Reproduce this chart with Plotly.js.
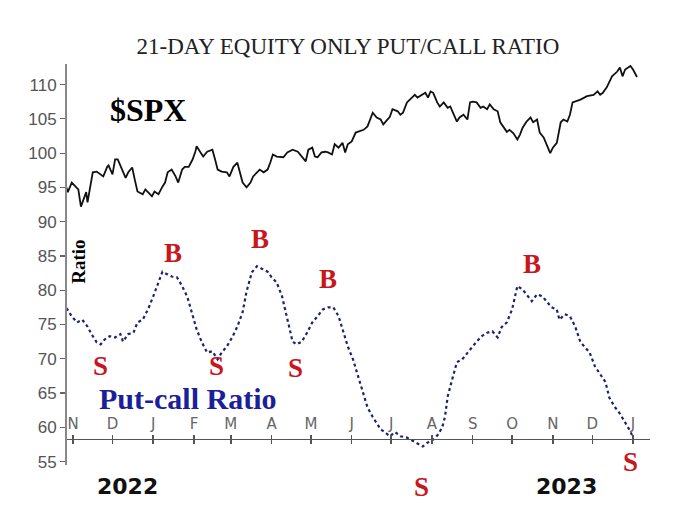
<!DOCTYPE html>
<html>
<head>
<meta charset="utf-8">
<script src="https://cdn.plot.ly/plotly-3.0.1.min.js"></script>
<style>html,body{margin:0;padding:0;background:#fff;}#chart{width:700px;height:525px;}</style>
</head>
<body>
<div id="chart"></div>
<script>
// x values: days since 1 Nov 2022
const spxDays = [-5,-4,-1,2,4,6,8,10,11,13,15,18,21,23,26,27,30,32,34,37,40,42,45,47,49,53,55,57,60,62,65,68,70,72,75,78,80,83,85,88,91,93,94,97,99,102,106,108,110,113,117,119,122,125,127,129,132,135,137,140,142,145,148,150,152,155,158,160,163,167,171,174,177,179,182,184,186,189,192,194,197,199,202,205,207,209,212,215,217,221,224,226,228,231,234,236,239,241,243,247,249,251,254,256,260,262,266,268,270,272,274,277,279,282,285,287,289,292,294,297,300,302,304,307,310,312,315,317,320,323,325,327,330,332,335,338,340,342,345,348,350,353,355,358,361,363,365,368,371,373,376,378,380,386,391,396,399,401,403,406,410,414,416,418,420,424,426,429];
const spxVals = [95.0,94.3,95.7,95.1,94.7,92.2,93.2,94.3,92.8,95.0,97.2,97.3,96.9,96.6,98.0,98.2,96.9,99.1,99.1,97.6,96.4,97.2,97.9,96.1,94.4,94.0,94.7,94.3,93.7,94.4,94.0,95.1,95.7,97.2,97.6,96.6,95.7,97.6,98.0,98.0,99.1,100.2,101.0,100.1,99.5,100.2,100.5,99.1,97.6,97.3,97.2,96.6,98.0,98.6,97.2,95.7,95.0,95.7,96.6,97.2,97.6,97.2,97.6,98.6,99.8,99.5,99.5,99.4,100.1,100.5,100.2,99.5,98.8,100.5,100.8,99.5,99.4,100.1,100.2,100.1,99.8,101.3,100.8,101.5,100.1,101.3,101.7,103.0,103.1,103.4,103.9,104.9,105.9,105.2,104.9,104.2,104.9,105.3,106.4,106.1,105.6,105.9,107.4,107.8,108.5,108.1,108.5,108.8,108.1,109.0,108.8,107.4,106.8,107.4,106.6,106.8,105.9,104.6,105.2,105.6,104.9,107.4,107.5,107.4,106.6,106.8,106.4,107.1,106.4,106.1,104.5,103.9,103.1,103.4,102.9,102.0,102.7,103.7,104.6,105.2,104.5,104.9,103.0,102.3,100.8,100.0,100.8,101.5,104.5,104.9,104.6,105.6,107.4,107.8,108.3,108.5,109.0,108.5,108.8,109.6,111.2,111.9,112.5,111.2,112.2,112.7,112.2,111.1];

const pcDays = [-5,-1,3,7,11,14,18,21,24,28,32,36,38,42,46,49,53,57,61,65,68,72,75,79,83,87,91,94,98,102,106,110,113,117,121,125,129,132,136,140,144,148,151,155,159,163,167,170,174,178,182,186,190,194,198,202,205,209,213,217,221,224,228,234,237,241,245,249,254,259,264,266,270,274,278,281,283,285,289,292,296,300,304,307,311,315,319,323,326,330,334,338,342,345,349,353,357,361,364,368,370,374,378,382,386,389,393,397,401,405,408,412,416,420,424,426];
const pcVals = [77.4,76.2,75.3,75.7,74.7,73.6,72.4,72.1,72.8,73.3,73.1,73.6,72.5,73.6,73.8,75.3,75.7,77.2,79.1,81.1,82.7,82.3,82.0,81.9,80.6,79.0,76.2,74.3,72.4,70.9,71.1,69.9,70.9,71.8,73.1,74.7,76.8,79.8,82.6,83.5,83.1,82.7,81.9,81.1,79.1,75.7,72.5,72.1,72.5,73.8,75.3,76.2,77.2,77.5,77.5,76.2,74.3,71.8,69.9,67.4,65.1,62.9,61.5,59.7,59.3,58.7,59.3,58.7,58.5,58.0,57.5,57.2,57.8,58.2,59.0,60.1,61.6,64.5,67.4,69.5,69.9,70.9,71.8,72.5,73.3,73.8,74.0,73.1,74.6,75.3,77.2,80.6,80.1,79.4,78.4,79.4,79.1,78.2,77.5,77.2,75.7,76.5,76.2,74.7,72.4,71.8,70.9,68.9,67.7,66.6,64.3,63.0,62.0,60.8,59.4,58.5];

const monthDays = [0,30,61,92,120,151,181,212,242,273,304,334,365,395,426];
const monthLabels = ['N','D','J','F','M','A','M','J','J','A','S','O','N','D','J'];
const yTickVals = [55,60,65,70,75,80,85,90,95,100,105,110];

const signalText = ['B','B','B','B','S','S','S','S'];
const signalDays = [76,142,194,349,21,109,169,424];
const signalVals = [85.4,87.4,81.6,83.8,68.9,68.9,68.7,55.0];
const bottomSignalDay = 265;

const RED = '#c8161d';
const BLUE = '#1b209a';
const axisPos = 0.066;

const traces = [
  {x: spxDays, y: spxVals, type: 'scatter', mode: 'lines',
   line: {color: '#111', width: 1.8}, hoverinfo: 'skip', showlegend: false},
  {x: pcDays, y: pcVals, type: 'scatter', mode: 'lines',
   line: {color: '#1c2470', width: 2.2, dash: 'dot'}, hoverinfo: 'skip', showlegend: false},
  {x: [pcDays[0]], y: [pcVals[0]], xaxis: 'x2', type: 'scatter', mode: 'markers',
   marker: {opacity: 0}, hoverinfo: 'skip', showlegend: false}
];

function ann(o) {
  return Object.assign({showarrow: false, xanchor: 'center', yanchor: 'middle'}, o);
}

const annotations = [];
for (let i = 0; i < signalText.length; i++) {
  annotations.push(ann({x: signalDays[i], y: signalVals[i], xref: 'x', yref: 'y',
    text: signalText[i],
    font: {family: 'Liberation Serif', size: 27, color: RED, weight: 'bold'}}));
}
annotations.push(ann({x: bottomSignalDay, y: -0.056, xref: 'x', yref: 'paper', text: 'S',
  font: {family: 'Liberation Serif', size: 27, color: RED, weight: 'bold'}}));
annotations.push(ann({x: 0.139, y: 0.886, xref: 'paper', yref: 'paper', text: '$SPX',
  font: {family: 'Liberation Serif', size: 32, color: '#000', weight: 'bold'}}));
annotations.push(ann({x: 0.0206, y: 0.507, xref: 'paper', yref: 'paper', text: 'Ratio', textangle: -90,
  font: {family: 'Liberation Serif', size: 19, color: '#000', weight: 'bold'}}));
annotations.push(ann({x: 0.2075, y: 0.165, xref: 'paper', yref: 'paper', text: 'Put-call Ratio',
  font: {family: 'Liberation Serif', size: 30, color: BLUE, weight: 'bold'}}));
annotations.push(ann({x: 0.103, y: -0.054, xref: 'paper', yref: 'paper', text: '2022',
  font: {family: 'DejaVu Sans', size: 22, color: '#111', weight: 'bold'}}));
annotations.push(ann({x: 0.856, y: -0.054, xref: 'paper', yref: 'paper', text: '2023',
  font: {family: 'DejaVu Sans', size: 22, color: '#111', weight: 'bold'}}));

const layout = {
  width: 700, height: 525,
  margin: {l: 67, r: 50, t: 64.4, b: 59.6, pad: 0},
  paper_bgcolor: '#fff', plot_bgcolor: '#fff',
  title: {text: '21-DAY EQUITY ONLY PUT/CALL RATIO', x: 0.497, xref: 'container', xanchor: 'center',
          y: 0.912, yref: 'container', yanchor: 'middle',
          font: {family: 'Liberation Serif', size: 23, color: '#222'}},
  xaxis: {range: [-4.6, 438.9], anchor: 'free', position: axisPos, side: 'top',
          showline: true, linecolor: '#555', linewidth: 1.5,
          showgrid: false, zeroline: false,
          tickmode: 'array', tickvals: monthDays, ticktext: monthLabels,
          ticks: 'outside', ticklen: 4, tickwidth: 1.5, tickcolor: '#555',
          tickfont: {family: 'DejaVu Sans', size: 15, color: '#666'}},
  xaxis2: {range: [-4.6, 438.9], matches: 'x', overlaying: 'x', anchor: 'free', position: axisPos, side: 'bottom',
           showline: false, showgrid: false, zeroline: false, showticklabels: false,
           tickmode: 'array', tickvals: monthDays,
           ticks: 'outside', ticklen: 4, tickwidth: 1.5, tickcolor: '#555'},
  yaxis: {range: [54.5, 113], showline: true, linecolor: '#888', linewidth: 2,
          showgrid: false, zeroline: false,
          tickmode: 'array', tickvals: yTickVals,
          ticks: 'outside', ticklen: 5, tickwidth: 1.2, tickcolor: '#666',
          tickfont: {family: 'Liberation Sans', size: 17, color: '#555'}},
  annotations: annotations,
  showlegend: false
};

Plotly.newPlot('chart', traces, layout, {staticPlot: true, displayModeBar: false});
</script>
</body>
</html>
